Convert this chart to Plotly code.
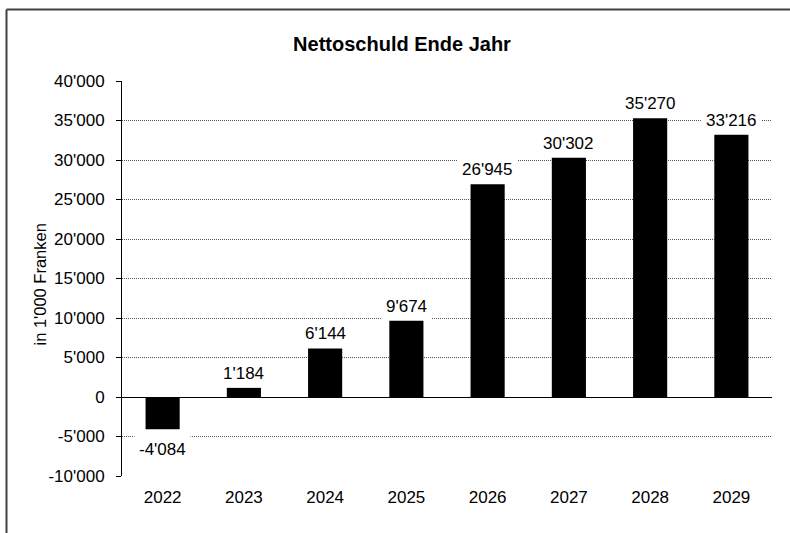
import plotly.graph_objects as go

years = ["2022", "2023", "2024", "2025", "2026", "2027", "2028", "2029"]
values = [-4084, 1184, 6144, 9674, 26945, 30302, 35270, 33216]
tick_vals = [-10000, -5000, 0, 5000, 10000, 15000, 20000, 25000, 30000, 35000, 40000]
tick_text = ["-10'000", "-5'000", "0", "5'000", "10'000", "15'000", "20'000",
             "25'000", "30'000", "35'000", "40'000"]
title_text = "Nettoschuld Ende Jahr"
y_title = "in 1'000 Franken"

FONT = "Arial, Liberation Sans, Helvetica, sans-serif"
FS = 17

def fmt(v):
    return f"{v:,}".replace(",", "'")

fig = go.Figure()
fig.add_trace(go.Bar(x=list(range(len(years))), y=values,
                     marker=dict(color="black", line=dict(width=0)),
                     hoverinfo="skip"))

annotations = []
for i, v in enumerate(values):
    annotations.append(dict(
        x=i, y=v, xref="x", yref="y", text=fmt(v), showarrow=False,
        yanchor="bottom" if v >= 0 else "top",
        yshift=0 if v >= 0 else -6,
        bgcolor="white", borderpad=4,
        font=dict(family=FONT, size=FS, color="black"),
    ))
annotations.append(dict(
    x=-0.126, y=0.485, xref="paper", yref="paper", text=y_title, textangle=-90,
    showarrow=False, xanchor="center", yanchor="middle",
    font=dict(family=FONT, size=16.5, color="black"),
))

W, H = 790, 533
L, R, T, B = 122, 18, 81, 57
pw, ph = W - L - R, H - T - B

def px_x(x):
    return (x - L) / pw

def px_y(y):
    return (H - B - y) / ph

shapes = [
    dict(type="line", xref="paper", yref="paper", x0=px_x(6.5), x1=px_x(792),
         y0=px_y(9.5), y1=px_y(9.5), line=dict(color="#404040", width=2)),
    dict(type="line", xref="paper", yref="paper", x0=px_x(6.5), x1=px_x(6.5),
         y0=px_y(9.5), y1=px_y(540), line=dict(color="#404040", width=2)),
]

fig.update_layout(
    width=W, height=H,
    margin=dict(l=L, r=R, t=T, b=B, autoexpand=False),
    paper_bgcolor="white", plot_bgcolor="white",
    showlegend=False,
    bargap=0.58,
    title=dict(text="<b>" + title_text + "</b>", x=402 / W, xref="container",
               xanchor="center", y=1 - 44 / H, yref="container", yanchor="middle",
               font=dict(family=FONT, size=20, color="black")),
    font=dict(family=FONT, size=FS, color="black"),
    annotations=annotations,
    shapes=shapes,
    xaxis=dict(range=[-0.5, len(years) - 0.5], tickvals=list(range(len(years))),
               ticktext=years, showgrid=False, showline=False, zeroline=False,
               ticks="outside", ticklen=6, tickcolor="rgba(0,0,0,0)",
               tickfont=dict(family=FONT, size=FS, color="black"), fixedrange=True),
    yaxis=dict(range=[-10000, 40000], tickvals=tick_vals, ticktext=tick_text,
               showgrid=True, gridcolor="#555555", gridwidth=1, griddash="1px,1px",
               zeroline=True, zerolinecolor="black", zerolinewidth=1,
               showline=True, linecolor="black", linewidth=1,
               ticks="outside", ticklen=5, tickcolor="black", tickwidth=1,
               ticklabelstandoff=8,
               tickfont=dict(family=FONT, size=FS, color="black"), fixedrange=True),
)

fig.write_html("out.html", config={"displayModeBar": False, "staticPlot": True},
               post_script="document.body.style.margin='0px';document.body.style.overflow='hidden';")
